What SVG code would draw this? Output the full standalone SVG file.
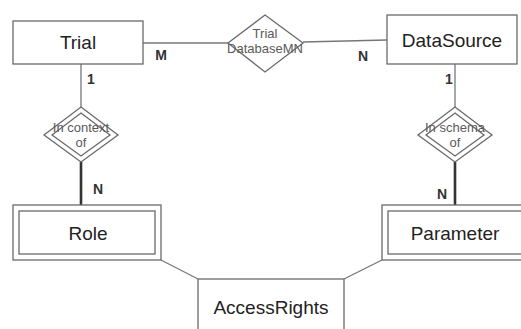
<svg xmlns="http://www.w3.org/2000/svg" width="521" height="329" viewBox="0 0 521 329">
<style>
.box{fill:#fff;stroke:#6a6a6a;stroke-width:1.3}
.ln{stroke:#777;stroke-width:1.3;fill:none}
.thick{stroke:#333;stroke-width:2.6;fill:none}
.t{font-family:"Liberation Sans",Arial,sans-serif;font-size:19px;fill:#222;text-anchor:middle}
.d{font-family:"Liberation Sans",Arial,sans-serif;font-size:13px;fill:#5a5a5a;text-anchor:middle}
.c{font-family:"Liberation Sans",Arial,sans-serif;font-size:14px;font-weight:bold;fill:#333;text-anchor:middle}
</style>
<rect width="521" height="329" fill="#fff"/>
<g id="connectors">
<line class="ln" x1="143" y1="43" x2="228" y2="43"/>
<line class="ln" x1="303" y1="42" x2="387" y2="40"/>
<line class="ln" x1="81" y1="64" x2="81" y2="108"/>
<line class="ln" x1="455" y1="64" x2="455" y2="108"/>
<line class="thick" x1="81" y1="162" x2="81" y2="205"/>
<line class="thick" x1="455" y1="162" x2="455" y2="205"/>
<line class="ln" x1="161" y1="260" x2="198" y2="279"/>
<line class="ln" x1="382" y1="260" x2="344" y2="279"/>
<text class="c" x="161" y="60">M</text>
<text class="c" x="363" y="61">N</text>
<text class="c" x="91" y="84">1</text>
<text class="c" x="449" y="84">1</text>
<text class="c" x="98" y="194">N</text>
<text class="c" x="442" y="199">N</text>
</g>
<g id="trial">
<rect class="box" x="13" y="21" width="130" height="43"/>
<text class="t" x="78" y="49">Trial</text>
</g>
<g id="datasource">
<rect class="box" x="387" y="15" width="130" height="49"/>
<text class="t" x="452" y="47">DataSource</text>
</g>
<g id="trialdatabasemn">
<polygon class="box" points="265,15 303,43 265,72 228,43"/>
<text class="d" x="265" y="37.5">Trial</text>
<text class="d" x="265" y="53">DatabaseMN</text>
</g>
<g id="incontextof">
<polygon class="box" points="81,107 118,135 81,162 44,135"/>
<polygon class="box" points="81,113 110,135 81,156 52,135"/>
<text class="d" x="81" y="132">In context</text>
<text class="d" x="81" y="147">of</text>
</g>
<g id="inschemaof">
<polygon class="box" points="455,107 492,135 455,162 418,135"/>
<polygon class="box" points="455,113 484,135 455,156 426,135"/>
<text class="d" x="455" y="132">In schema</text>
<text class="d" x="455" y="147">of</text>
</g>
<g id="role">
<rect class="box" x="13" y="205" width="148" height="55"/>
<rect class="box" x="19" y="211" width="136" height="43"/>
<text class="t" x="88" y="240">Role</text>
</g>
<g id="parameter">
<rect class="box" x="382" y="205" width="150" height="55"/>
<rect class="box" x="388" y="211" width="138" height="43"/>
<text class="t" x="455" y="240">Parameter</text>
</g>
<g id="accessrights">
<rect class="box" x="198" y="279" width="146" height="60"/>
<text class="t" x="271" y="314">AccessRights</text>
</g>
</svg>
